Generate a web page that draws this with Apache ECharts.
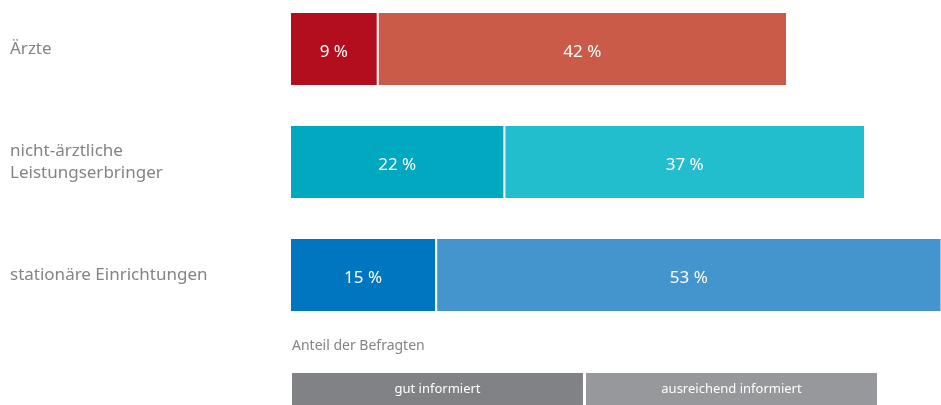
<!DOCTYPE html>
<html>
<head>
<meta charset="utf-8">
<script src="https://cdn.jsdelivr.net/npm/echarts@6/dist/echarts.min.js"></script>
<style>
  html, body { margin: 0; padding: 0; background: #fff; }
  #chart { width: 941px; height: 405px; }
</style>
</head>
<body>
<div id="chart"></div>
<script>
const categories = ['Ärzte', 'nicht-ärztliche\nLeistungserbringer', 'stationäre Einrichtungen']
const gutInformiert = [9, 22, 15]
const ausreichendInformiert = [42, 37, 53]
const legendNames = ['gut informiert', 'ausreichend informiert']
const axisTitle = 'Anteil der Befragten'

// colours per row: dark = gut, light = ausreichend
const darkColors = ['#B30E1E', '#00A9BF', '#0076C0']
const lightColors = ['#C95B48', '#22BECE', '#4494CE']
const legendColors = ['#808285', '#97989B']
const textGray = '#848484'
const font = '"Noto Sans", "Open Sans", sans-serif'

const chart = echarts.init(document.getElementById('chart'))

const makeSeries = (name, values, colors) => ({
    name,
    type: 'bar',
    stack: 'total',
    barWidth: 74,
    clip: true,
    data: values.map((v, i) => ({ value: v, itemStyle: { color: colors[i] } })),
    itemStyle: { borderColor: '#fff', borderWidth: 1 },
    label: {
        show: true,
        position: 'inside',
        offset: [0, 3],
        formatter: '{c} %',
        color: '#fff',
        fontSize: 17,
        fontFamily: font,
    },
})

const option = {
    animation: false,
    // category centres sit on the grid edges (boundaryGap false)
    grid: { left: 290, right: 0, top: 49, bottom: 130, containLabel: false },
    xAxis: {
        type: 'value',
        min: 0,
        max: 66.8,
        show: false,
    },
    yAxis: {
        type: 'category',
        data: categories,
        inverse: true,
        boundaryGap: false,
        axisLine: { show: false },
        axisTick: { show: false },
        splitLine: { show: false },
        axisLabel: {
            align: 'left',
            margin: 280,
            color: textGray,
            fontSize: 17,
            lineHeight: 22,
            fontFamily: font,
            padding: [10, 0, 0, 0],
        },
    },
    title: {
        text: axisTitle,
        left: 287,
        top: 334,
        textStyle: { color: textGray, fontSize: 14, fontWeight: 'normal', fontFamily: font },
    },
    graphic: legendNames.map((name, i) => ({
        type: 'group',
        left: 292 + i * 294,
        top: 373,
        children: [
            { type: 'rect', shape: { x: 0, y: 0, width: 291, height: 32 }, style: { fill: legendColors[i] } },
            {
                type: 'text', x: 145.5, y: 16,
                style: {
                    text: name, fill: '#fff', fontSize: 13, fontFamily: font,
                    align: 'center', verticalAlign: 'middle',
                },
            },
        ],
    })),
    series: [
        makeSeries(legendNames[0], gutInformiert, darkColors),
        makeSeries(legendNames[1], ausreichendInformiert, lightColors),
    ],
}
chart.setOption(option)
</script>
</body>
</html>
